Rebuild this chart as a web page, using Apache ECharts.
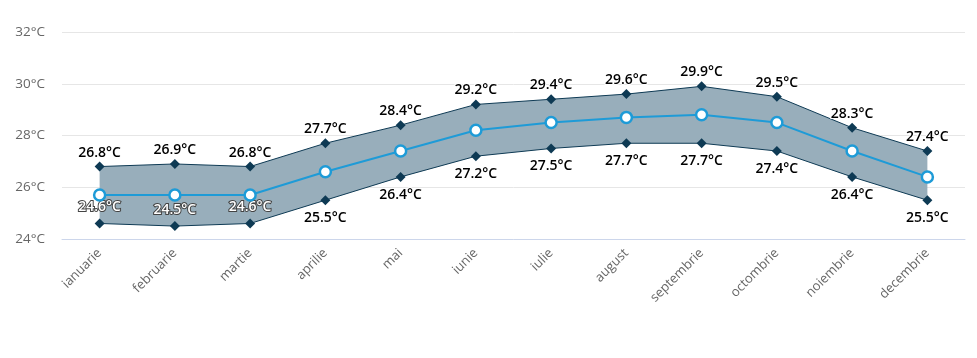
<!DOCTYPE html>
<html>
<head>
<meta charset="utf-8">
<script src="https://cdn.jsdelivr.net/npm/echarts@6/dist/echarts.min.js"></script>
<style>
html,body{margin:0;padding:0;background:#fff;}
#chart{width:977px;height:358px;}
</style>
</head>
<body>
<div id="chart"></div>
<script>
const categories = ['ianuarie','februarie','martie','aprilie','mai','iunie','iulie','august','septembrie','octombrie','noiembrie','decembrie'];
const maxTemps = [26.8, 26.9, 26.8, 27.7, 28.4, 29.2, 29.4, 29.6, 29.9, 29.5, 28.3, 27.4];
const minTemps = [24.6, 24.5, 24.6, 25.5, 26.4, 27.2, 27.5, 27.7, 27.7, 27.4, 26.4, 25.5];
const meanTemps = [25.7, 25.7, 25.7, 26.6, 27.4, 28.2, 28.5, 28.7, 28.8, 28.5, 27.4, 26.4];
const yTicks = [24, 26, 28, 30, 32];
const insideLabelMonths = ['ianuarie','februarie','martie'];

const FONT = '"Open Sans", "Noto Sans", sans-serif';
const dark = '#0e3a54';
const blue = '#1e9bd7';

const rangeData = maxTemps.map((v, i) => +(v - minTemps[i]).toFixed(1));

const labelBase = {
  show: true,
  fontFamily: FONT,
  fontSize: 14,
  fontWeight: 600,
  color: '#000',
  textBorderColor: '#fff',
  textBorderWidth: 2,
  formatter: p => p.value.toFixed(1) + '°C'
};

const minData = minTemps.map((v, i) => {
  if (insideLabelMonths.includes(categories[i])) {
    return {
      value: v,
      label: {
        position: 'top',
        distance: 4,
        color: '#fff',
        textBorderColor: '#444',
        textBorderWidth: 2
      }
    };
  }
  return v;
});

const chart = echarts.init(document.getElementById('chart'), null, {renderer: 'canvas'});
chart.setOption({
  animation: false,
  grid: {left: 62, right: 12, top: 32, bottom: 119},
  xAxis: {
    type: 'category',
    data: categories,
    boundaryGap: true,
    axisLine: {lineStyle: {color: '#ccd6eb'}},
    axisTick: {show: false},
    axisLabel: {rotate: 45, color: '#666', fontSize: 13, fontFamily: FONT, margin: 12}
  },
  yAxis: {
    type: 'value',
    min: yTicks[0],
    max: yTicks[yTicks.length - 1],
    interval: 2,
    axisLine: {show: false},
    axisTick: {show: false},
    splitLine: {lineStyle: {color: '#e6e6e6'}},
    axisLabel: {color: '#666', fontSize: 13.5, fontFamily: FONT, margin: 17, formatter: v => v + '°C'}
  },
  series: [
    {
      type: 'line', stack: 'band', data: minTemps, symbol: 'none',
      lineStyle: {opacity: 0}, silent: true, z: 1
    },
    {
      type: 'line', stack: 'band', data: rangeData, symbol: 'none',
      lineStyle: {opacity: 0}, areaStyle: {color: '#98aebb', opacity: 1}, silent: true, z: 1
    },
    {
      type: 'line', data: maxTemps, symbol: 'diamond', symbolSize: 10,
      itemStyle: {color: dark}, lineStyle: {color: dark, width: 1}, z: 3,
      label: Object.assign({}, labelBase, {position: 'top', distance: 2})
    },
    {
      type: 'line', data: minData, symbol: 'diamond', symbolSize: 10,
      itemStyle: {color: dark}, lineStyle: {color: dark, width: 1}, z: 3,
      label: Object.assign({}, labelBase, {position: 'bottom', distance: 6})
    },
    {
      type: 'line', data: meanTemps, symbol: 'circle', symbolSize: 11,
      itemStyle: {color: '#fff', borderColor: blue, borderWidth: 2.5},
      lineStyle: {color: blue, width: 2}, z: 4
    }
  ]
});
</script>
</body>
</html>
